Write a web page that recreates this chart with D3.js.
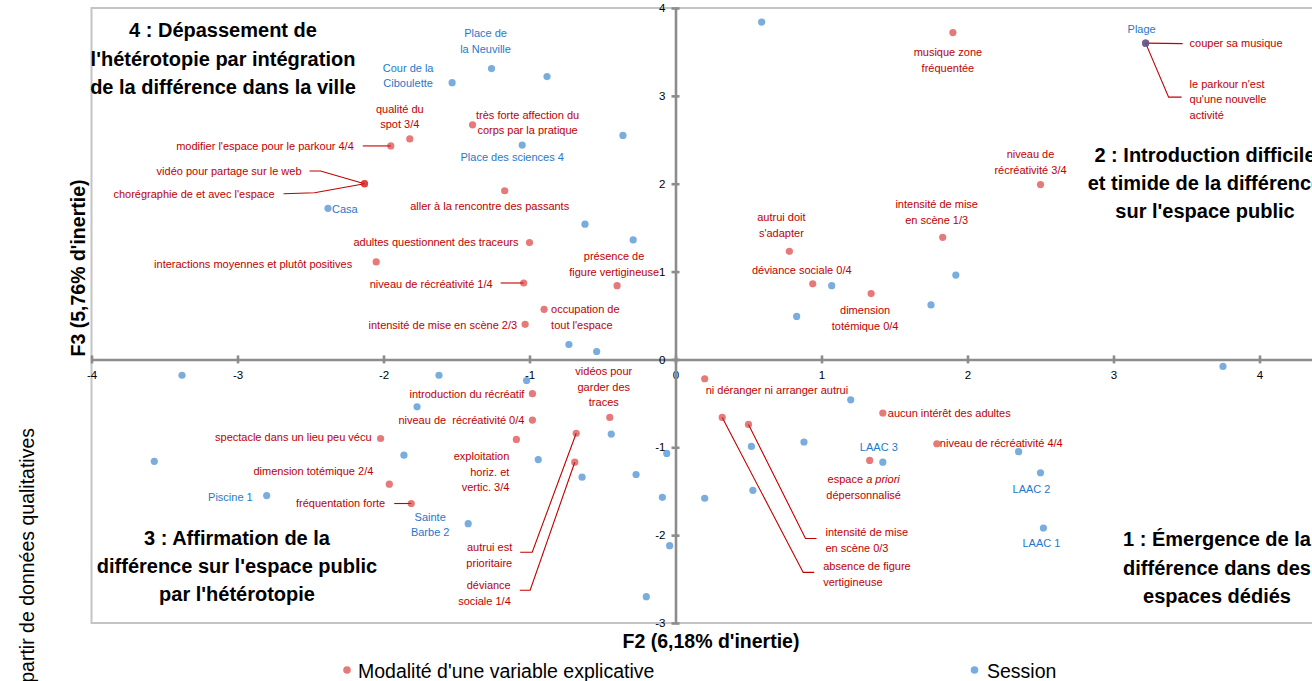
<!DOCTYPE html>
<html><head><meta charset="utf-8">
<script src="https://cdn.jsdelivr.net/npm/d3@7"></script>
<style>body{margin:0;overflow:hidden;background:#fff}svg{display:block}</style>
</head><body><svg id="c" width="1312" height="681"></svg>
<script>
// ---------- DATA ----------
const xTicks = [-4,-3,-2,-1,0,1,2,3,4];
const yTicks = [-3,-2,-1,0,1,2,3,4];

const sessionNames = ["","Cour de la Ciboulette","Place de la Neuville","","Place des sciences 4","","Casa","","","","","","","","","","","","","","","","LAAC 3","","","","","","","","","","","","","Sainte Barbe 2","Piscine 1","","","LAAC 2","LAAC 1","Plage"];
const sessionF2 = [0.59,-1.53,-1.26,-0.88,-1.05,-0.36,-2.38,-0.62,-0.29,1.92,1.75,1.07,0.83,-0.73,-0.54,-3.38,-1.62,-1.02,-1.77,3.75,1.20,0.88,1.42,0.52,0.53,0.20,-0.06,-0.09,-0.04,-0.20,-0.44,-0.27,-0.64,-0.94,-1.86,-1.42,-2.80,-3.57,2.35,2.50,2.52,3.22];
const sessionF3 = [3.84,3.15,3.31,3.22,2.44,2.55,1.72,1.54,1.36,0.96,0.62,0.84,0.49,0.17,0.09,-0.18,-0.18,-0.24,-0.54,-0.08,-0.46,-0.94,-1.17,-0.99,-1.49,-1.58,-1.07,-1.57,-2.12,-2.70,-0.85,-1.31,-1.34,-1.14,-1.09,-1.87,-1.55,-1.16,-1.05,-1.29,-1.92,3.60];

const modaliteNames = ["musique zone fréquentée","couper sa musique","le parkour n'est qu'une nouvelle activité","niveau de récréativité 3/4","intensité de mise en scène 1/3","autrui doit s'adapter","déviance sociale 0/4","dimension totémique 0/4","qualité du spot 3/4","modifier l'espace pour le parkour 4/4","vidéo pour partage sur le web","chorégraphie de et avec l'espace","très forte affection du corps par la pratique","aller à la rencontre des passants","adultes questionnent des traceurs","interactions moyennes et plutôt positives","niveau de récréativité 1/4","intensité de mise en scène 2/3","occupation de tout l'espace","présence de figure vertigineuse","ni déranger ni arranger autrui","introduction du récréatif","niveau de  récréativité 0/4","exploitation horiz. et vertic. 3/4","spectacle dans un lieu peu vécu","dimension totémique 2/4","fréquentation forte","vidéos pour garder des traces","autrui est prioritaire","déviance sociale 1/4","espace a priori dépersonnalisé","intensité de mise en scène 0/3","absence de figure vertigineuse","aucun intérêt des adultes","niveau de récréativité 4/4"];
const modaliteF2 = [1.90,3.22,3.22,2.50,1.83,0.78,0.94,1.34,-1.82,-1.95,-2.13,-2.13,-1.39,-1.17,-1.00,-2.05,-1.04,-1.03,-0.90,-0.40,0.20,-0.98,-0.98,-1.09,-2.02,-1.96,-1.81,-0.45,-0.68,-0.69,1.33,0.50,0.32,1.42,1.79];
const modaliteF3 = [3.72,3.60,3.60,1.99,1.39,1.23,0.86,0.75,2.51,2.43,2.00,2.00,2.67,1.92,1.33,1.11,0.87,0.40,0.57,0.84,-0.22,-0.39,-0.69,-0.91,-0.90,-1.42,-1.64,-0.66,-0.84,-1.17,-1.15,-0.74,-0.66,-0.61,-0.96];

const legendLabels = ["Modalité d'une variable explicative","Session"];
const xTitle = "F2 (6,18% d'inertie)";
const yTitle = "F3 (5,76% d'inertie)";
const sideTitle = "à partir de données qualitatives";
const quadrantTitles = [
  ["4 : Dépassement de","l'hétérotopie par intégration","de la différence dans la ville"],
  ["2 : Introduction difficile","et timide de la différence","sur l'espace public"],
  ["3 : Affirmation de la","différence sur l'espace public","par l'hétérotopie"],
  ["1 : Émergence de la","différence dans des","espaces dédiés"]
];

// ---------- LAYOUT (label placement, pixels relative to points) ----------
const sessionLabelLayout = {
  1:{lines:["Cour de la","Ciboulette"],dx:-44,dy:-15,a:"middle"},
  2:{lines:["Place de","la Neuville"],dx:-6,dy:-35,a:"middle"},
  4:{lines:["Place des sciences 4"],dx:-10,dy:12,a:"middle"},
  6:{lines:["Casa"],dx:4,dy:0.5,a:"start"},
  22:{lines:["LAAC 3"],dx:-4,dy:-15,a:"middle"},
  35:{lines:["Sainte","Barbe 2"],dx:-38,dy:-7,a:"middle"},
  36:{lines:["Piscine 1"],dx:-14,dy:2,a:"end"},
  39:{lines:["LAAC 2"],dx:-9,dy:16,a:"middle"},
  40:{lines:["LAAC 1"],dx:-2,dy:15,a:"middle"},
  41:{lines:["Plage"],dx:-4,dy:-14,a:"middle"}
};
const modaliteLabelLayout = [
  {lines:["musique zone","fréquentée"],dx:-5,dy:20,a:"middle"},
  {lines:["couper sa musique"],dx:44,dy:0.5,a:"start",leader:[[0,0],[37,0.5]]},
  {lines:["le parkour n'est","qu'une nouvelle","activité"],dx:44,dy:41,a:"start",leader:[[0,0],[23,54],[36,54]]},
  {lines:["niveau de","récréativité 3/4"],dx:-10,dy:-30,a:"middle"},
  {lines:["intensité de mise","en scène 1/3"],dx:-6,dy:-33,a:"middle"},
  {lines:["autrui doit","s'adapter"],dx:-8,dy:-34,a:"middle"},
  {lines:["déviance sociale 0/4"],dx:-11,dy:-14,a:"middle"},
  {lines:["dimension","totémique 0/4"],dx:-6,dy:17,a:"middle"},
  {lines:["qualité du","spot 3/4"],dx:-10,dy:-30,a:"middle"},
  {lines:["modifier l'espace pour le parkour 4/4"],dx:-37,dy:0,a:"end",leader:[[-28,0],[0,0]]},
  {lines:["vidéo pour partage sur le web"],dx:-63,dy:-12.7,a:"end",leader:[[-55,-12.7],[-44,-12.7],[0,0]]},
  {lines:["chorégraphie de et avec l'espace"],dx:-90,dy:10,a:"end",leader:[[-81,10],[-50,9],[0,0]]},
  {lines:["très forte affection du","corps par la pratique"],dx:55,dy:-10,a:"middle"},
  {lines:["aller à la rencontre des passants"],dx:-15,dy:15,a:"middle"},
  {lines:["adultes questionnent des traceurs"],dx:-11,dy:0,a:"end"},
  {lines:["interactions moyennes et plutôt positives"],dx:-24,dy:2,a:"end"},
  {lines:["niveau de récréativité 1/4"],dx:-31,dy:1,a:"end",leader:[[-23,0],[0,0]]},
  {lines:["intensité de mise en scène 2/3"],dx:-8,dy:1,a:"end"},
  {lines:["occupation de","tout l'espace"],dx:7,dy:0,a:"start"},
  {lines:["présence de","figure vertigineuse"],dx:-3,dy:-29,a:"middle"},
  {lines:["ni déranger ni arranger autrui"],dx:1,dy:11,a:"start"},
  {lines:["introduction du récréatif"],dx:-8,dy:0,a:"end"},
  {lines:["niveau de  récréativité 0/4"],dx:-8,dy:0,a:"end"},
  {lines:["exploitation","horiz. et","vertic. 3/4"],dx:-7,dy:17,a:"end"},
  {lines:["spectacle dans un lieu peu vécu"],dx:-9,dy:-1,a:"end"},
  {lines:["dimension totémique 2/4"],dx:-16,dy:-13,a:"end"},
  {lines:["fréquentation forte"],dx:-26,dy:0,a:"end",leader:[[-17,0],[0,0]]},
  {lines:["vidéos pour","garder des","traces"],dx:-6,dy:-46,a:"middle"},
  {lines:["autrui est","prioritaire"],dx:-64,dy:114,a:"end",leader:[[0,0],[-44,119],[-56,119]]},
  {lines:["déviance","sociale 1/4"],dx:-64,dy:123,a:"end",leader:[[0,0],[-44.6,128],[-55,128]]},
  {lines:["espace _a priori_","dépersonnalisé"],dx:-6,dy:19,a:"middle"},
  {lines:["intensité de mise","en scène 0/3"],dx:77,dy:108,a:"start",leader:[[0,0],[57,114],[68,114]]},
  {lines:["absence de figure","vertigineuse"],dx:101,dy:149,a:"start",leader:[[0,0],[81,155],[92,155]]},
  {lines:["aucun intérêt des adultes"],dx:5,dy:0,a:"start"},
  {lines:["niveau de récréativité 4/4"],dx:3,dy:-1,a:"start"}
];
const quadrantLayout = [
  {x:223,y:30,lh:28.5},{x:1205,y:155,lh:28},{x:237,y:538,lh:28},{x:1217,y:539,lh:28.5}
];

// ---------- STYLE ----------
const RED_DOT="#d62020", BLUE_DOT="#1f77c8", DOT_OP=0.6;
const RED_TXT="#c00000", BLUE_TXT="#1f78cc";
const AXIS="#8c8c8c", BORDER="#c4c4c4";
const BASE_FONT="'Liberation Sans', Arial, sans-serif";

const svg = d3.select("#c");

function fontExists(name){
  const t = svg.append("text").attr("x",-999).style("font-size","40px").text("abcdefghijklmnop");
  t.style("font-family","monospace"); const w1=t.node().getComputedTextLength();
  t.style("font-family",`'${name}', monospace`); const w2=t.node().getComputedTextLength();
  t.remove(); return Math.abs(w1-w2)>0.5;
}
const narrow = fontExists("Liberation Sans Narrow");
const LBL_FONT = narrow ? "'Liberation Sans Narrow', 'Liberation Sans', Arial, sans-serif" : BASE_FONT;
const LBL_SIZE = narrow ? 13 : 11;
const LH = 15.5;

// ---------- SCALES ----------
const x = d3.scaleLinear().domain([-4,4.5]).range([91.5,1332.5]);
const y = d3.scaleLinear().domain([-3,4]).range([623,8]);

// border
svg.append("rect").attr("x",x(-4)).attr("y",y(4)).attr("width",x(4.5)-x(-4)).attr("height",y(-3)-y(4))
  .attr("fill","none").attr("stroke",BORDER).attr("stroke-width",2);

// axes
const gx = svg.append("g").attr("transform",`translate(0,${y(0)})`)
  .call(d3.axisBottom(x).tickValues(xTicks).tickSizeInner(0).tickSizeOuter(0).tickPadding(11).tickFormat(d=>String(d)));
const gy = svg.append("g").attr("transform",`translate(${x(0)},0)`)
  .call(d3.axisLeft(y).tickValues(yTicks).tickSizeInner(0).tickSizeOuter(0).tickPadding(10).tickFormat(d=>String(d)));
[gx,gy].forEach(g=>{
  g.select(".domain").attr("stroke",AXIS).attr("stroke-width",2.6);
  g.selectAll(".tick text").attr("fill","#000").style("font-family",LBL_FONT).style("font-size",(LBL_SIZE+0.5)+"px");
});
gx.selectAll(".tick line").attr("y1",-4).attr("y2",4).attr("stroke",AXIS).attr("stroke-width",2.6);
gy.selectAll(".tick line").attr("x1",-4).attr("x2",4).attr("stroke",AXIS).attr("stroke-width",2.6);

// points: modalités first, then sessions on top
const mods = modaliteNames.map((n,i)=>({n,f2:modaliteF2[i],f3:modaliteF3[i],L:modaliteLabelLayout[i]}));
const sess = sessionNames.map((n,i)=>({n,f2:sessionF2[i],f3:sessionF3[i],L:sessionLabelLayout[i]}));

// leaders
const line = d3.line();
svg.append("g").selectAll("path").data(mods.filter(d=>d.L.leader)).join("path")
  .attr("d",d=>line(d.L.leader.map(p=>[x(d.f2)+p[0],y(d.f3)+p[1]])))
  .attr("fill","none").attr("stroke",RED_TXT).attr("stroke-width",1.1);

svg.append("g").selectAll("circle").data(mods).join("circle")
  .attr("cx",d=>x(d.f2)).attr("cy",d=>y(d.f3)).attr("r",3.6)
  .attr("fill",RED_DOT).attr("fill-opacity",DOT_OP);
svg.append("g").selectAll("circle").data(sess).join("circle")
  .attr("cx",d=>x(d.f2)).attr("cy",d=>y(d.f3)).attr("r",3.6)
  .attr("fill",BLUE_DOT).attr("fill-opacity",DOT_OP);

function drawLabels(data,color){
  const g = svg.append("g").style("font-family",LBL_FONT).style("font-size",LBL_SIZE+"px").attr("fill",color);
  data.filter(d=>d.L).forEach(d=>{
    const t = g.append("text").attr("text-anchor",d.L.a).style("white-space","pre");
    d.L.lines.forEach((ln,i)=>{
      const parts = ln.split("_");
      parts.forEach((p,j)=>{
        if(!p) return;
        const ts = t.append("tspan").text(p).style("font-style",j%2?"italic":"normal");
        if(j===0 || (j===1 && !parts[0])){
          ts.attr("x",x(d.f2)+d.L.dx).attr("y",y(d.f3)+d.L.dy+i*LH).attr("dy","0.35em");
        }
      });
    });
  });
}
drawLabels(mods,RED_TXT);
drawLabels(sess.filter(d=>d.n),BLUE_TXT);

// quadrant titles
quadrantTitles.forEach((lines,k)=>{
  const q=quadrantLayout[k];
  const t=svg.append("text").attr("text-anchor","middle").style("font-family",BASE_FONT)
    .style("font-size","20px").style("font-weight","bold").attr("fill","#000");
  lines.forEach((ln,i)=>t.append("tspan").attr("x",q.x).attr("y",q.y+i*q.lh).attr("dy","0.35em").text(ln));
});

// axis titles
svg.append("text").attr("x",711).attr("y",641).attr("dy","0.35em").attr("text-anchor","middle")
  .style("font-family",BASE_FONT).style("font-size","19.5px").style("font-weight","bold").text(xTitle);
svg.append("text").attr("transform","translate(78,268) rotate(-90)").attr("dy","0.35em").attr("text-anchor","middle")
  .style("font-family",BASE_FONT).style("font-size","19.5px").style("font-weight","bold").text(yTitle);
svg.append("text").attr("transform","translate(27,428) rotate(-90)").attr("dy","0.35em").attr("text-anchor","end")
  .style("font-family",BASE_FONT).style("font-size","19.5px").text(sideTitle);

// legend
const legendPos=[{cx:347,tx:358},{cx:974.5,tx:987}];
const legendColors=[RED_DOT,BLUE_DOT];
legendLabels.forEach((lab,i)=>{
  svg.append("circle").attr("cx",legendPos[i].cx).attr("cy",670).attr("r",3.8).attr("fill",legendColors[i]).attr("fill-opacity",DOT_OP);
  svg.append("text").attr("x",legendPos[i].tx).attr("y",671).attr("dy","0.35em")
    .style("font-family",BASE_FONT).style("font-size","19.5px").text(lab);
});
</script></body></html>
